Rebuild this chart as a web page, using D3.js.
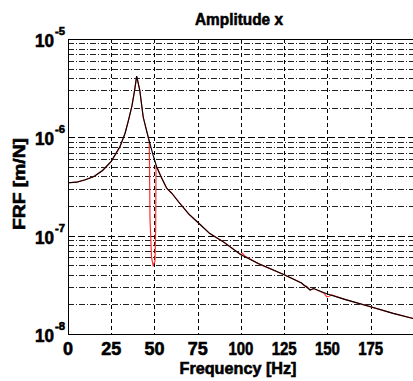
<!DOCTYPE html>
<html>
<head>
<meta charset="utf-8">
<script src="https://cdn.jsdelivr.net/npm/d3@7"></script>
<style>
  body { margin: 0; background: #fff; }
  text { font-family: "Liberation Sans", Arial, sans-serif; font-weight: bold; fill: #000; stroke: #000; stroke-width: 0.6px; }
</style>
</head>
<body>
<figure id="frfPlot" style="margin:0"></figure>
<script>
// measured response, black trace
const freqBlack = [0, 5, 10, 15, 20, 25, 30, 33, 35, 37, 38.5, 39.7, 41.5, 43.5, 46.4, 49.3, 51.3, 54, 57, 60, 64, 70, 75, 82, 90, 100, 110, 125, 135, 140, 142, 150, 160, 175, 188, 200];
const frfBlack = [3.45e-7, 3.5e-7, 3.7e-7, 4.0e-7, 4.6e-7, 5.7e-7, 8.0e-7, 1.1e-6, 1.5e-6, 2.1e-6, 3.0e-6, 4.2e-6, 3.0e-6, 1.6e-6, 1.0e-6, 6.5e-7, 5.0e-7, 3.9e-7, 3.05e-7, 2.7e-7, 2.2e-7, 1.65e-7, 1.37e-7, 1.05e-7, 8.6e-8, 6.4e-8, 5.2e-8, 4.0e-8, 3.3e-8, 2.8e-8, 2.9e-8, 2.55e-8, 2.25e-8, 1.89e-8, 1.62e-8, 1.43e-8];

// second trace (red), same curve with a notch near 50 Hz and small dips
const freqRed = [0, 5, 10, 15, 20, 25, 30, 33, 35, 37, 38.5, 39.7, 41.5, 43.5, 46.4, 47.0, 47.4, 48.3, 49.2, 50.3, 50.7, 50.9, 51.3, 54, 57, 60, 64, 70, 75, 82, 90, 100, 101, 102, 110, 125, 135, 136.5, 138, 140, 142, 148, 149.5, 151, 152.5, 160, 175, 188, 200];
const frfRed = [3.45e-7, 3.5e-7, 3.7e-7, 4.0e-7, 4.6e-7, 5.7e-7, 8.0e-7, 1.1e-6, 1.5e-6, 2.1e-6, 3.0e-6, 4.2e-6, 3.0e-6, 1.6e-6, 1.0e-6, 9.0e-7, 1.5e-7, 6.0e-8, 5.0e-8, 5.5e-8, 1.2e-7, 5.2e-7, 5.0e-7, 3.9e-7, 3.05e-7, 2.7e-7, 2.2e-7, 1.65e-7, 1.37e-7, 1.05e-7, 8.6e-8, 6.4e-8, 6.6e-8, 6.25e-8, 5.2e-8, 4.0e-8, 3.3e-8, 3.1e-8, 3.05e-8, 2.8e-8, 2.9e-8, 2.6e-8, 2.4e-8, 2.42e-8, 2.5e-8, 2.25e-8, 1.89e-8, 1.62e-8, 1.43e-8];

const xTicks = [0, 25, 50, 75, 100, 125, 150, 175];
const yDecades = [-5, -6, -7, -8];

const titleText = "Amplitude x";
const xLabelText = "Frequency [Hz]";
const yLabelText = "FRF [m/N]";

const W = 413, H = 381;
const margin = {top: 39, left: 68, bottom: 334};

const x = d3.scaleLinear().domain([0, 200]).range([margin.left, margin.left + 200 * 43.24 / 25]);
const y = d3.scaleLog().domain([1e-8, 1e-5]).range([margin.bottom, margin.top]);

const svg = d3.select('figure#frfPlot')
  .append('svg')
  .attr('width', W)
  .attr('height', H);

// ---- grid
const grid = svg.append('g').attr('class', 'grid').attr('shape-rendering', 'crispEdges');

let minorVals = [];
for (let e = -8; e < -5; e++) {
  for (let k = 2; k <= 9; k++) minorVals.push(k * Math.pow(10, e));
}
grid.selectAll('line.minor')
  .data(minorVals)
  .enter().append('line')
  .attr('class', 'minor')
  .attr('x1', x(0)).attr('x2', W + 5)
  .attr('y1', d => Math.round(y(d)) + 0.5).attr('y2', d => Math.round(y(d)) + 0.5)
  .attr('stroke', '#222')
  .attr('stroke-width', 1)
  .attr('stroke-dasharray', '6,2,1,2');

grid.selectAll('line.major')
  .data([1e-6, 1e-7])
  .enter().append('line')
  .attr('class', 'major')
  .attr('x1', x(0)).attr('x2', W + 5)
  .attr('y1', d => Math.round(y(d)) + 0.5).attr('y2', d => Math.round(y(d)) + 0.5)
  .attr('stroke', '#000')
  .attr('stroke-dasharray', '7,3');

grid.selectAll('line.vert')
  .data(xTicks.slice(1))
  .enter().append('line')
  .attr('class', 'vert')
  .attr('x1', d => Math.round(x(d)) + 0.5).attr('x2', d => Math.round(x(d)) + 0.5)
  .attr('y1', margin.top).attr('y2', margin.bottom)
  .attr('stroke', '#000')
  .attr('stroke-dasharray', '4,3');

// ---- traces
const line = d3.line().x(d => x(d[0])).y(d => y(d[1]));

svg.append('path')
  .attr('class', 'trace-red')
  .attr('d', line(freqRed.map((f, i) => [f, frfRed[i]])))
  .attr('fill', 'none')
  .attr('stroke', '#ff3030')
  .attr('stroke-width', 1.2);

svg.append('path')
  .attr('class', 'trace-black')
  .attr('d', line(freqBlack.map((f, i) => [f, frfBlack[i]])))
  .attr('fill', 'none')
  .attr('stroke', '#000')
  .attr('stroke-width', 1.1);

// ---- axes frame
const frame = svg.append('g').attr('shape-rendering', 'crispEdges');
frame.append('line').attr('x1', x(0) + 0.5).attr('x2', x(0) + 0.5)
  .attr('y1', margin.top).attr('y2', margin.bottom + 1).attr('stroke', '#000').attr('stroke-width', 1.5);
frame.append('line').attr('x1', x(0)).attr('x2', W + 5)
  .attr('y1', margin.top + 0.5).attr('y2', margin.top + 0.5).attr('stroke', '#000').attr('stroke-width', 1.5);
frame.append('line').attr('x1', x(0)).attr('x2', W + 5)
  .attr('y1', margin.bottom + 0.5).attr('y2', margin.bottom + 0.5).attr('stroke', '#000').attr('stroke-width', 1.5);

// ---- tick labels
svg.append('g').attr('class', 'x-ticks')
  .selectAll('text')
  .data(xTicks)
  .enter().append('text')
  .attr('x', d => x(d))
  .attr('y', 355)
  .attr('text-anchor', 'middle')
  .attr('font-size', 18)
  .attr('textLength', d => String(d).length === 1 ? 10 : String(d).length === 2 ? 20 : 25)
  .attr('lengthAdjust', 'spacingAndGlyphs')
  .text(d => d);

const yt = svg.append('g').attr('class', 'y-ticks')
  .selectAll('g')
  .data(yDecades)
  .enter().append('g')
  .attr('transform', d => 'translate(0,' + y(Math.pow(10, d)) + ')');
yt.append('text')
  .attr('x', 35)
  .attr('y', 8)
  .attr('font-size', 18)
  .attr('textLength', 19).attr('lengthAdjust', 'spacingAndGlyphs')
  .text('10');
yt.append('text')
  .attr('x', 55)
  .attr('y', -4)
  .attr('font-size', 11)
  .attr('stroke-width', 0.3)
  .attr('textLength', 10).attr('lengthAdjust', 'spacingAndGlyphs')
  .text(d => d);

// ---- titles
svg.append('text')
  .attr('x', 239).attr('y', 25)
  .attr('text-anchor', 'middle')
  .attr('font-size', 17)
  .attr('textLength', 88).attr('lengthAdjust', 'spacingAndGlyphs')
  .text(titleText);

svg.append('text')
  .attr('x', 238).attr('y', 374)
  .attr('text-anchor', 'middle')
  .attr('font-size', 17)
  .attr('textLength', 117).attr('lengthAdjust', 'spacingAndGlyphs')
  .text(xLabelText);

svg.append('text')
  .attr('transform', 'translate(25,184) rotate(-90)')
  .attr('text-anchor', 'middle')
  .attr('font-size', 17)
  .attr('textLength', 92).attr('lengthAdjust', 'spacingAndGlyphs')
  .text(yLabelText);
</script>
</body>
</html>
